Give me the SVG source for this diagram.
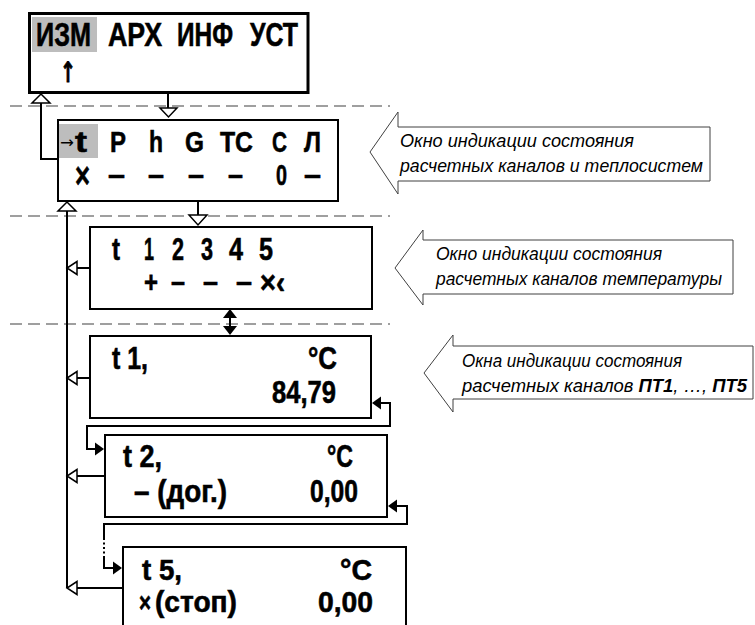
<svg xmlns="http://www.w3.org/2000/svg" width="755" height="625" viewBox="0 0 755 625">
<style>
.bg{fill:#ffffff}
.box{fill:#ffffff;stroke:#000;stroke-width:2}
.box3{fill:#ffffff;stroke:#000;stroke-width:3}
.hl{fill:#bdbdbd}
.b{font-family:"Liberation Sans",Arial,sans-serif;font-weight:bold;fill:#000;stroke:#000;stroke-width:0.6}
.sym{font-family:"DejaVu Sans","Liberation Sans",sans-serif;fill:#000}
.it{font-family:"Liberation Sans",Arial,sans-serif;font-style:italic;font-size:18px;fill:#000}
.dash{stroke:#808080;stroke-width:1.3;stroke-dasharray:12 6;fill:none}
.ln{stroke:#000;stroke-width:2;fill:none}
.open{fill:#fff;stroke:#000;stroke-width:1.5}
.fill{fill:#000;stroke:none}
.call{fill:#fff;stroke:#404040;stroke-width:1}
</style>
<rect class="bg" x="0" y="0" width="755" height="625"/>

<g id="separators">
<line class="dash" x1="10" y1="106" x2="390" y2="106"/>
<line class="dash" x1="10" y1="216" x2="390" y2="216"/>
<line class="dash" x1="10" y1="324" x2="390" y2="324"/>
</g>

<g id="connectors">
<line class="ln" x1="168" y1="93" x2="168" y2="108"/>
<polygon class="open" points="160,108 177,108 168.5,117"/>
<polyline class="ln" points="58,159 41,159 41,103"/>
<polygon class="open" points="32,103 50,103 41,94"/>
<line class="ln" x1="198" y1="201" x2="198" y2="215"/>
<polygon class="open" points="189,215 207,215 198,225"/>
<line class="ln" x1="67" y1="211" x2="67" y2="588"/>
<polygon class="open" points="58,211 76,211 67,202"/>
<line class="ln" x1="77" y1="268" x2="89" y2="268"/>
<polygon class="open" points="77,261.5 77,274.5 67,268"/>
<line class="ln" x1="77" y1="378" x2="89" y2="378"/>
<polygon class="open" points="77,371.5 77,384.5 67,378"/>
<line class="ln" x1="77" y1="476" x2="104" y2="476"/>
<polygon class="open" points="77,469.5 77,482.5 67,476"/>
<line class="ln" x1="77" y1="588" x2="123" y2="588"/>
<polygon class="open" points="77,581.5 77,594.5 67,588"/>
<line class="ln" x1="230" y1="316" x2="230" y2="328"/>
<polygon class="fill" points="223,318 237,318 230,309"/>
<polygon class="fill" points="223,326 237,326 230,335"/>
<polyline class="ln" points="380,403 390,403 390,426 87,426 87,449 96,449"/>
<polygon class="fill" points="381,396.5 381,409.5 372,403"/>
<polygon class="fill" points="95,442.5 95,455.5 104,449"/>
<polyline class="ln" points="396,506 407,506 407,524 104,524 104,538"/>
<polygon class="fill" points="397,499.5 397,512.5 388,506"/>
<line x1="104" y1="538" x2="104" y2="558" stroke="#000" stroke-width="2" stroke-dasharray="2 2.5"/>
<polyline class="ln" points="104,558 104,568 114,568"/>
<polygon class="fill" points="113,561.5 113,574.5 122,568"/>
</g>

<g id="menu">
<rect class="box3" x="29.5" y="13.5" width="278.5" height="79"/>
<rect class="hl" x="32" y="17" width="65" height="35"/>
<text class="b" font-size="34" x="36" y="46" textLength="55" lengthAdjust="spacingAndGlyphs">ИЗМ</text>
<text class="b" font-size="34" x="108" y="46" textLength="54" lengthAdjust="spacingAndGlyphs">АРХ</text>
<text class="b" font-size="34" x="177" y="46" textLength="56" lengthAdjust="spacingAndGlyphs">ИНФ</text>
<text class="b" font-size="34" x="250" y="46" textLength="48" lengthAdjust="spacingAndGlyphs">УСТ</text>
<text class="sym" font-weight="bold" font-size="28" x="60" y="82" textLength="16" lengthAdjust="spacingAndGlyphs" stroke="#000" stroke-width="0.8">↑</text>
</g>

<g id="systems">
<rect class="box" x="58" y="120" width="280" height="81"/>
<rect class="hl" x="59" y="124" width="39" height="34"/>
<text class="sym" font-size="16" x="60" y="148" textLength="14" lengthAdjust="spacingAndGlyphs">→</text>
<text class="b" font-size="30" x="75" y="152" textLength="12" lengthAdjust="spacingAndGlyphs">t</text>
<text class="b" font-size="30" x="110" y="152" textLength="16" lengthAdjust="spacingAndGlyphs">P</text>
<text class="b" font-size="30" x="149" y="152" textLength="14" lengthAdjust="spacingAndGlyphs">h</text>
<text class="b" font-size="30" x="185" y="152" textLength="19" lengthAdjust="spacingAndGlyphs">G</text>
<text class="b" font-size="30" x="220" y="152" textLength="33" lengthAdjust="spacingAndGlyphs">TC</text>
<text class="b" font-size="30" x="272" y="152" textLength="15" lengthAdjust="spacingAndGlyphs">C</text>
<text class="b" font-size="30" x="304" y="152" textLength="17" lengthAdjust="spacingAndGlyphs">Л</text>
<text class="b" font-size="36" x="75" y="188" textLength="15" lengthAdjust="spacingAndGlyphs">×</text>
<text class="b" font-size="30" x="108" y="185" textLength="17" lengthAdjust="spacingAndGlyphs">–</text>
<text class="b" font-size="30" x="148" y="185" textLength="16" lengthAdjust="spacingAndGlyphs">–</text>
<text class="b" font-size="30" x="188" y="185" textLength="16" lengthAdjust="spacingAndGlyphs">–</text>
<text class="b" font-size="30" x="228" y="185" textLength="15" lengthAdjust="spacingAndGlyphs">–</text>
<text class="b" font-size="30" x="276" y="185" textLength="11" lengthAdjust="spacingAndGlyphs">0</text>
<text class="b" font-size="30" x="304" y="185" textLength="17" lengthAdjust="spacingAndGlyphs">–</text>
</g>

<g id="temperature">
<rect class="box" x="90" y="227" width="282" height="82"/>
<text class="b" font-size="31" x="112" y="260" textLength="8" lengthAdjust="spacingAndGlyphs">t</text>
<text class="b" font-size="31" x="144" y="260" textLength="10" lengthAdjust="spacingAndGlyphs">1</text>
<text class="b" font-size="31" x="172" y="260" textLength="12" lengthAdjust="spacingAndGlyphs">2</text>
<text class="b" font-size="31" x="201" y="260" textLength="12" lengthAdjust="spacingAndGlyphs">3</text>
<text class="b" font-size="31" x="229" y="260" textLength="14" lengthAdjust="spacingAndGlyphs">4</text>
<text class="b" font-size="31" x="259" y="260" textLength="14" lengthAdjust="spacingAndGlyphs">5</text>
<text class="b" font-size="30" x="144" y="292" textLength="14" lengthAdjust="spacingAndGlyphs">+</text>
<text class="b" font-size="30" x="171" y="292" textLength="14" lengthAdjust="spacingAndGlyphs">–</text>
<text class="b" font-size="30" x="203" y="292" textLength="15" lengthAdjust="spacingAndGlyphs">–</text>
<text class="b" font-size="30" x="236" y="292" textLength="16" lengthAdjust="spacingAndGlyphs">–</text>
<text class="b" font-size="31" x="260" y="293" textLength="25" lengthAdjust="spacingAndGlyphs">×‹</text>
</g>

<g id="t1">
<rect class="box" x="90" y="336" width="281" height="82"/>
<text class="b" font-size="32" x="112" y="369" textLength="36" lengthAdjust="spacingAndGlyphs">t 1,</text>
<text class="b" font-size="32" x="308" y="369" textLength="29" lengthAdjust="spacingAndGlyphs">°C</text>
<text class="b" font-size="32" x="272" y="403" textLength="64" lengthAdjust="spacingAndGlyphs">84,79</text>
</g>

<g id="t2">
<rect class="box" x="105" y="435" width="282" height="82"/>
<text class="b" font-size="32" x="123" y="467" textLength="39" lengthAdjust="spacingAndGlyphs">t 2,</text>
<text class="b" font-size="32" x="327" y="467" textLength="26" lengthAdjust="spacingAndGlyphs">°C</text>
<text class="b" font-size="32" x="134" y="502" textLength="93" lengthAdjust="spacingAndGlyphs">– (дог.)</text>
<text class="b" font-size="32" x="310" y="502" textLength="48" lengthAdjust="spacingAndGlyphs">0,00</text>
</g>

<g id="t5">
<rect class="box" x="123" y="547" width="283" height="95"/>
<text class="b" font-size="30" x="142" y="580" textLength="40" lengthAdjust="spacingAndGlyphs">t 5,</text>
<text class="b" font-size="30" x="340" y="580" textLength="32" lengthAdjust="spacingAndGlyphs">°C</text>
<text class="b" font-size="28" x="139" y="612" textLength="12" lengthAdjust="spacingAndGlyphs">×</text>
<text class="b" font-size="30" x="155" y="612" textLength="82" lengthAdjust="spacingAndGlyphs">(стоп)</text>
<text class="b" font-size="30" x="318" y="612" textLength="55" lengthAdjust="spacingAndGlyphs">0,00</text>
</g>

<g id="callout1">
<polygon class="call" points="370,152 398,112 398,127 710,127 710,181 398,181 398,194"/>
<text class="it" x="400" y="147" textLength="234" lengthAdjust="spacingAndGlyphs">Окно индикации состояния</text>
<text class="it" x="400" y="172" textLength="303" lengthAdjust="spacingAndGlyphs">расчетных каналов и теплосистем</text>
</g>

<g id="callout2">
<polygon class="call" points="395,268 423,230 423,240 733,240 733,294 423,294 423,305"/>
<text class="it" x="436" y="260" textLength="226" lengthAdjust="spacingAndGlyphs">Окно индикации состояния</text>
<text class="it" x="436" y="285" textLength="286" lengthAdjust="spacingAndGlyphs">расчетных каналов температуры</text>
</g>

<g id="callout3">
<polygon class="call" points="424,373 453,335 453,346 753,346 753,399 453,399 453,412"/>
<text class="it" x="462" y="367" textLength="220" lengthAdjust="spacingAndGlyphs">Окна индикации состояния</text>
<text class="it" x="462" y="392" textLength="285" lengthAdjust="spacingAndGlyphs">расчетных каналов <tspan font-weight="bold">ПТ1</tspan>, …, <tspan font-weight="bold">ПТ5</tspan></text>
</g>
</svg>
